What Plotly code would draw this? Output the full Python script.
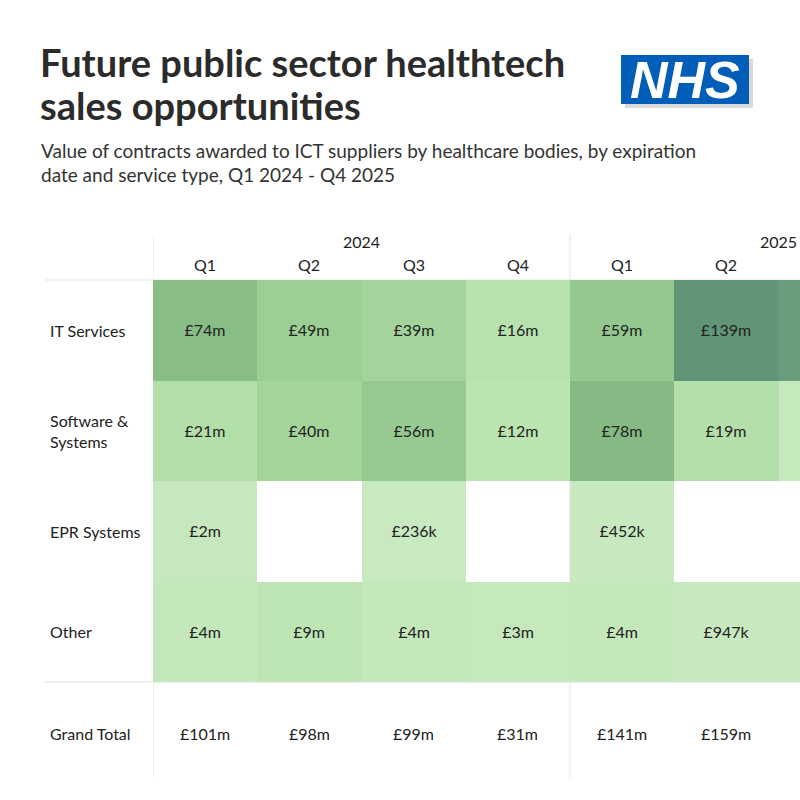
import plotly.graph_objects as go

# ---------------- data ----------------
quarters = ["Q1", "Q2", "Q3", "Q4", "Q1", "Q2", "Q3"]
years = ["2024", "2025"]
services = ["IT Services", "Software &<br>Systems", "EPR Systems", "Other"]

# values in £ millions (None = no contracts)
it_services = [74, 49, 39, 16, 59, 139, 124]
software_systems = [21, 40, 56, 12, 78, 19, 3]
epr_systems = [2, None, 0.236, None, 0.452, None, None]
other = [4, 9, 4, 3, 4, 0.947, 2]
grand_total = [101, 98, 99, 31, 141, 159, 129]


def fmt(v):
    if v is None:
        return ""
    if v < 1:
        return "£%dk" % round(v * 1000)
    return "£%dm" % round(v)


z = [it_services, software_systems, epr_systems, other]
text = [[fmt(v) for v in row] for row in z]

W, H = 800, 800
left_px, top_px, bottom_px = 153, 280, 682
col_w = (570 - 153) / 4

FONT = "Lato"
TXT = "#222222"
FS = 16

colorscale = [
    [0.0, "#c9e9c1"],
    [0.06, "#bfe6b5"],
    [0.15, "#b2dea8"],
    [0.35, "#9ccf94"],
    [0.56, "#86ba84"],
    [1.0, "#619577"],
]

fig = go.Figure(
    go.Heatmap(
        z=z,
        x=list(range(len(quarters))),
        y=list(range(len(services))),
        text=text,
        texttemplate="%{text}",
        textfont=dict(family=FONT, size=FS, color=TXT),
        colorscale=colorscale,
        zmin=0,
        zmax=139,
        showscale=False,
        hoverinfo="skip",
    )
)


def py(px):
    return 1 - px / H


fig.update_layout(
    width=W,
    height=H,
    margin=dict(l=0, r=0, t=0, b=0),
    paper_bgcolor="white",
    plot_bgcolor="white",
    xaxis=dict(
        domain=[left_px / W, 1],
        range=[-0.5, -0.5 + (W - left_px) / col_w],
        visible=False,
        fixedrange=True,
    ),
    yaxis=dict(
        domain=[py(bottom_px), py(top_px)],
        range=[3.5, -0.5],
        visible=False,
        fixedrange=True,
    ),
    showlegend=False,
)

line = dict(color="#e3e3e3", width=1)
shapes = [
    dict(type="line", xref="x", yref="paper", x0=-0.5, x1=-0.5, y0=py(235), y1=py(778), line=line, layer="below"),
    dict(type="line", xref="x", yref="paper", x0=3.5, x1=3.5, y0=py(235), y1=py(778), line=line, layer="below"),
    dict(type="line", xref="paper", yref="paper", x0=45 / W, x1=1, y0=py(280), y1=py(280), line=line, layer="below"),
    dict(type="line", xref="paper", yref="paper", x0=45 / W, x1=1, y0=py(682), y1=py(682), line=line, layer="below"),
    # NHS logo: shadow + blue box
    dict(type="rect", xref="paper", yref="paper", x0=625 / W, x1=753 / W, y0=py(108), y1=py(59),
         fillcolor="#d9d9d9", line=dict(width=0), layer="above"),
    dict(type="rect", xref="paper", yref="paper", x0=621 / W, x1=749 / W, y0=py(104), y1=py(55),
         fillcolor="#005eb8", line=dict(width=0), layer="above"),
]

ann = []


def A(**kw):
    kw.setdefault("showarrow", False)
    kw.setdefault("yanchor", "middle")
    kw.setdefault("xanchor", "center")
    ann.append(kw)


# title & subtitle
A(text="<b>Future public sector healthtech</b>", x=38 / W, y=py(62), xref="paper", yref="paper",
  xanchor="left", font=dict(family=FONT, size=38, color="#2b2b2b"))
A(text="<b>sales opportunities</b>", x=38 / W, y=py(105), xref="paper", yref="paper",
  xanchor="left", font=dict(family=FONT, size=38, color="#2b2b2b"))
A(text="Value of contracts awarded to ICT suppliers by healthcare bodies, by expiration",
  x=39 / W, y=py(151), xref="paper", yref="paper", xanchor="left",
  font=dict(family=FONT, size=19, color="#333333"))
A(text="date and service type, Q1 2024 - Q4 2025",
  x=39 / W, y=py(174), xref="paper", yref="paper", xanchor="left",
  font=dict(family=FONT, size=19, color="#333333"))
# NHS logo text
A(text="NHS", x=685 / W, y=py(80), xref="paper", yref="paper",
  font=dict(family="Liberation Sans", size=52, color="white", weight="bold", style="italic"))

# year headers
A(text=years[0], x=1.5, y=py(241), xref="x", yref="paper", font=dict(family=FONT, size=FS, color=TXT))
A(text=years[1], x=5.5, y=py(241), xref="x", yref="paper", font=dict(family=FONT, size=FS, color=TXT))
# quarter headers
for i, q in enumerate(quarters):
    A(text=q, x=i, y=py(264), xref="x", yref="paper", font=dict(family=FONT, size=FS, color=TXT))
# row labels
for j, s in enumerate(services):
    A(text=s, x=48 / W, y=j, xref="paper", yref="y", xanchor="left", align="left",
      font=dict(family=FONT, size=FS, color=TXT))
A(text="Grand Total", x=48 / W, y=py(733), xref="paper", yref="paper", xanchor="left",
  font=dict(family=FONT, size=FS, color=TXT))
for i, t in enumerate(grand_total):
    A(text=fmt(t), x=i, y=py(733), xref="x", yref="paper", font=dict(family=FONT, size=FS, color=TXT))

fig.update_layout(shapes=shapes, annotations=ann)
fig.write_html("out.html")
